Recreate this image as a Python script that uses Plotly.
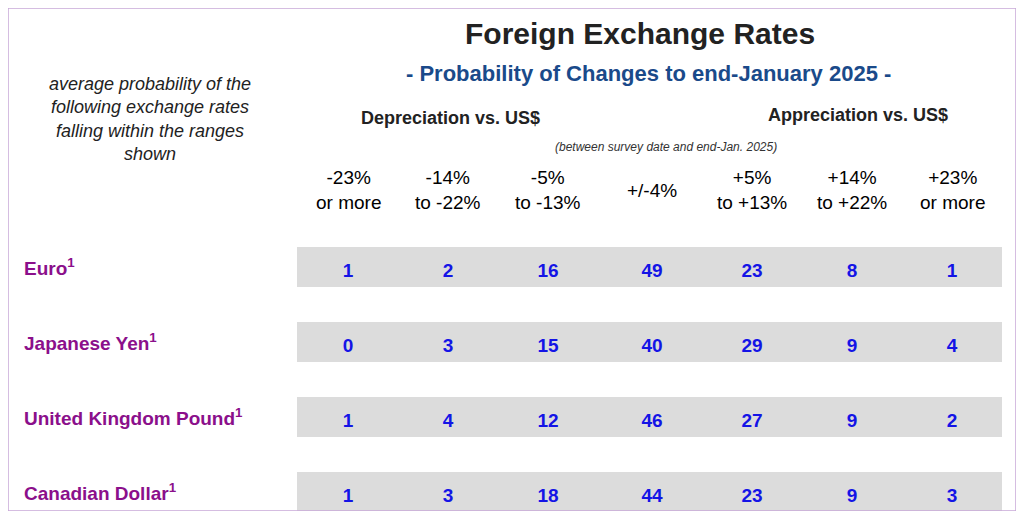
import plotly.graph_objects as go

currencies = ["Euro", "Japanese Yen", "United Kingdom Pound", "Canadian Dollar"]
col_top = ["-23%", "-14%", "-5%", "", "+5%", "+14%", "+23%"]
col_bottom = ["or more", "to -22%", "to -13%", "+/-4%", "to +13%", "to +22%", "or more"]
values = [
    [1, 2, 16, 49, 23, 8, 1],
    [0, 3, 15, 40, 29, 9, 4],
    [1, 4, 12, 46, 27, 9, 2],
    [1, 3, 18, 44, 23, 9, 3],
]

col_x = [348, 448, 548, 652, 752, 852, 952]
row_y = [267, 342, 417, 492]
band_left, band_right, band_h = 297, 1002, 40

font = "Liberation Sans, Arial, sans-serif"
fig = go.Figure()

fig.add_trace(go.Bar(
    y=row_y, x=[band_right - band_left] * len(row_y), base=band_left,
    orientation="h", width=band_h, marker_color="#dcdcdc", marker_line_width=0,
    hoverinfo="skip",
))

xs, ys, ts = [], [], []
for r, row in enumerate(values):
    for c, v in enumerate(row):
        xs.append(col_x[c]); ys.append(row_y[r] + 5); ts.append(f"<b>{v}</b>")
fig.add_trace(go.Scatter(x=xs, y=ys, text=ts, mode="text",
                         textfont=dict(family=font, size=19, color="#1414e6")))

for y, name in zip(row_y, currencies):
    fig.add_annotation(x=22, y=y, text=f"<b>{name}<sup>1</sup></b>", showarrow=False,
                       xanchor="left", font=dict(family=font, size=19, color="#8b0f8b"))

for x, t, b in zip(col_x, col_top, col_bottom):
    fig.add_annotation(x=x, y=190, text=(t + "<br>" + b) if t else "<br>" + b, showarrow=False,
                       font=dict(family=font, size=19, color="black"))

fig.add_annotation(x=640, y=33, text="<b>Foreign Exchange Rates</b>", showarrow=False,
                   font=dict(family=font, size=30, color="#222"))
fig.add_annotation(x=648, y=73, text="<b>- Probability of Changes to end-January 2025 -</b>",
                   showarrow=False, font=dict(family=font, size=22, color="#1a4a8a"))
fig.add_annotation(x=150, y=119,
                   text="<i>average probability of the<br>following exchange rates<br>falling within the ranges<br>shown</i>",
                   showarrow=False, font=dict(family=font, size=18, color="#222"))
fig.add_annotation(x=450, y=118, text="<b>Depreciation vs. US$</b>", showarrow=False,
                   font=dict(family=font, size=18, color="#222"))
fig.add_annotation(x=858, y=115, text="<b>Appreciation vs. US$</b>", showarrow=False,
                   font=dict(family=font, size=18, color="#222"))
fig.add_annotation(x=666, y=147, text="<i>(between survey date and end-Jan. 2025)</i>",
                   showarrow=False, font=dict(family=font, size=12, color="#333"))

fig.add_shape(type="rect", xref="paper", yref="paper", x0=0, x1=1, y0=0, y1=1,
              line=dict(color="#c8a8d8", width=1.5))

fig.update_layout(
    width=1008, height=503, margin=dict(l=0, r=0, t=0, b=0),
    paper_bgcolor="white", plot_bgcolor="white", showlegend=False,
    xaxis=dict(range=[8, 1016], visible=False, fixedrange=True),
    yaxis=dict(range=[511, 8], visible=False, fixedrange=True),
)
fig.write_html("out.html")
